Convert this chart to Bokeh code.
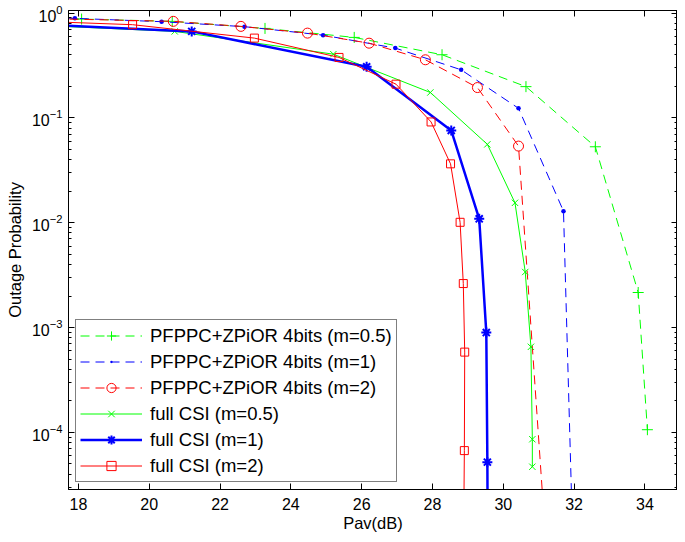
import numpy as np
from bokeh.plotting import figure
from bokeh.models import (FixedTicker, LinearAxis, LogAxis, Legend, LegendItem,
                          Range1d, LogTickFormatter, CustomJSTickFormatter)
from bokeh.embed import file_html
from bokeh.resources import INLINE

# ---------------- data ----------------
pf_m05_x = [16.5, 18.09, 20.65, 23.27, 25.79, 28.27, 30.64, 32.60, 33.81, 34.07]
pf_m05_y = [0.90, 0.878, 0.835, 0.715, 0.587, 0.401, 0.199, 0.0531, 0.00216, 1.06e-4]

pf_m1_x = [15.5, 17.90, 20.35, 22.69, 24.91, 26.95, 28.81, 30.43, 31.70, 31.96]
pf_m1_y = [0.93, 0.892, 0.829, 0.743, 0.617, 0.464, 0.288, 0.1236, 0.0129, 1e-5]

pf_m2_x = [16.9, 20.68, 22.59, 24.47, 26.21, 27.80, 29.27, 30.43, 31.19]
pf_m2_y = [0.89, 0.835, 0.748, 0.645, 0.517, 0.359, 0.195, 0.0539, 1e-5]

csi_m05_x = [15.6, 20.72, 25.20, 27.94, 29.55, 30.33, 30.62, 30.78, 30.82, 30.82]
csi_m05_y = [0.80, 0.670, 0.406, 0.175, 0.0560, 0.0155, 0.00339, 6.55e-4, 8.6e-5, 4.7e-5]

csi_m1_x = [16.2, 21.20, 26.14, 28.53, 29.32, 29.52, 29.55, 29.56]
csi_m1_y = [0.80, 0.670, 0.308, 0.0761, 0.0109, 8.95e-4, 5.2e-5, 1e-5]

csi_m2_x = [15.5, 19.53, 22.97, 25.36, 26.97, 27.96, 28.51, 28.78, 28.87, 28.91, 28.90, 28.88]
csi_m2_y = [0.87, 0.776, 0.578, 0.378, 0.210, 0.0916, 0.0365, 0.0101, 0.00263, 5.83e-4, 6.7e-5, 1e-5]

labels = ["PFPPC+ZPiOR 4bits (m=0.5)", "PFPPC+ZPiOR 4bits (m=1)", "PFPPC+ZPiOR 4bits (m=2)",
          "full CSI (m=0.5)", "full CSI (m=1)", "full CSI (m=2)"]

x_ticks = [18, 20, 22, 24, 26, 28, 30, 32, 34]
y_ticks = [1e-4, 1e-3, 1e-2, 1e-1, 1e0]
y_minor = [m * 10.0 ** e for e in range(-5, 1) for m in range(2, 10)]

FONT = "Liberation Sans"

p = figure(width=677, height=534, title=None,
           x_range=Range1d(17.72, 34.92), y_range=Range1d(2.85e-5, 1.06),
           y_axis_type="log", output_backend="svg", toolbar_location=None,
           min_border_left=68, min_border_right=0, min_border_top=10, min_border_bottom=44)
p.background_fill_color = "white"
p.border_fill_color = "white"
p.outline_line_color = "black"
p.outline_line_width = 1
p.xgrid.visible = False
p.ygrid.visible = False

xt = FixedTicker(ticks=x_ticks, minor_ticks=[])
yt = FixedTicker(ticks=y_ticks, minor_ticks=y_minor)


def style_axis(ax):
    ax.axis_line_color = "black"
    ax.major_tick_line_color = "black"
    ax.minor_tick_line_color = "black"
    ax.major_tick_in = 6
    ax.major_tick_out = 0
    ax.minor_tick_in = 3
    ax.minor_tick_out = 0
    ax.major_label_text_font = FONT
    ax.major_label_text_color = "black"
    ax.major_label_text_font_size = "16px"
    ax.axis_label_text_font = FONT
    ax.axis_label_text_font_style = "normal"
    ax.axis_label_text_font_size = "16.5px"
    ax.axis_label_text_color = "black"


p.xaxis.ticker = xt
p.yaxis.ticker = yt
p.yaxis.formatter = LogTickFormatter()
style_axis(p.xaxis[0])
style_axis(p.yaxis[0])
p.xaxis.axis_label = "Pav(dB)"
p.yaxis.axis_label = "Outage Probability"
p.xaxis.major_label_standoff = 8
p.yaxis.major_label_standoff = 6
p.xaxis.axis_label_standoff = 1
p.yaxis.axis_label_standoff = 5

blank = CustomJSTickFormatter(code="return ''")
top = LinearAxis(ticker=xt, formatter=blank, major_label_standoff=0)
style_axis(top)
top.major_label_text_font_size = "1px"
p.add_layout(top, "above")
right = LogAxis(ticker=yt, formatter=blank, major_label_standoff=0)
style_axis(right)
right.major_label_text_font_size = "1px"
p.add_layout(right, "right")

GREEN, BLUE, RED = "#00ff00", "#0000ff", "#ff0000"
DASH = "9 6"

items = []

l1 = p.line(pf_m05_x, pf_m05_y, line_color=GREEN, line_width=1, line_dash=DASH)
s1 = p.scatter(pf_m05_x, pf_m05_y, marker="cross", size=11, line_color=GREEN, line_width=1)
items.append(LegendItem(label=labels[0], renderers=[l1, s1]))

l2 = p.line(pf_m1_x, pf_m1_y, line_color=BLUE, line_width=1, line_dash=DASH)
s2 = p.scatter(pf_m1_x, pf_m1_y, marker="dot", size=18, line_color=BLUE, fill_color=BLUE, line_width=1)
items.append(LegendItem(label=labels[1], renderers=[l2, s2]))

l3 = p.line(pf_m2_x, pf_m2_y, line_color=RED, line_width=1, line_dash=DASH)
s3 = p.scatter(pf_m2_x, pf_m2_y, marker="circle", size=10, line_color=RED, fill_color=None, line_width=1)
items.append(LegendItem(label=labels[2], renderers=[l3, s3]))

l4 = p.line(csi_m05_x, csi_m05_y, line_color=GREEN, line_width=1)
s4 = p.scatter(csi_m05_x, csi_m05_y, marker="x", size=9, line_color=GREEN, line_width=1)
items.append(LegendItem(label=labels[3], renderers=[l4, s4]))

l5 = p.line(csi_m1_x, csi_m1_y, line_color=BLUE, line_width=2.5)
s5 = p.scatter(csi_m1_x, csi_m1_y, marker="asterisk", size=10, line_color=BLUE, line_width=2)
items.append(LegendItem(label=labels[4], renderers=[l5, s5]))

l6 = p.line(csi_m2_x, csi_m2_y, line_color=RED, line_width=1)
s6 = p.scatter(csi_m2_x, csi_m2_y, marker="square", size=8, line_color=RED, fill_color=None, line_width=1)
items.append(LegendItem(label=labels[5], renderers=[l6, s6]))

legend = Legend(items=items, location="bottom_left")
legend.label_text_font = FONT
legend.label_text_font_size = "18.5px"
legend.label_text_color = "black"
legend.glyph_width = 62
legend.glyph_height = 23
legend.label_height = 23
legend.label_width = 242
legend.spacing = 3
legend.padding = 4
legend.margin = 7
legend.label_standoff = 8
legend.border_line_color = "black"
legend.border_line_width = 1
legend.background_fill_color = "white"
legend.background_fill_alpha = 1
p.add_layout(legend)

open("out.html", "w").write(file_html(p, INLINE))
